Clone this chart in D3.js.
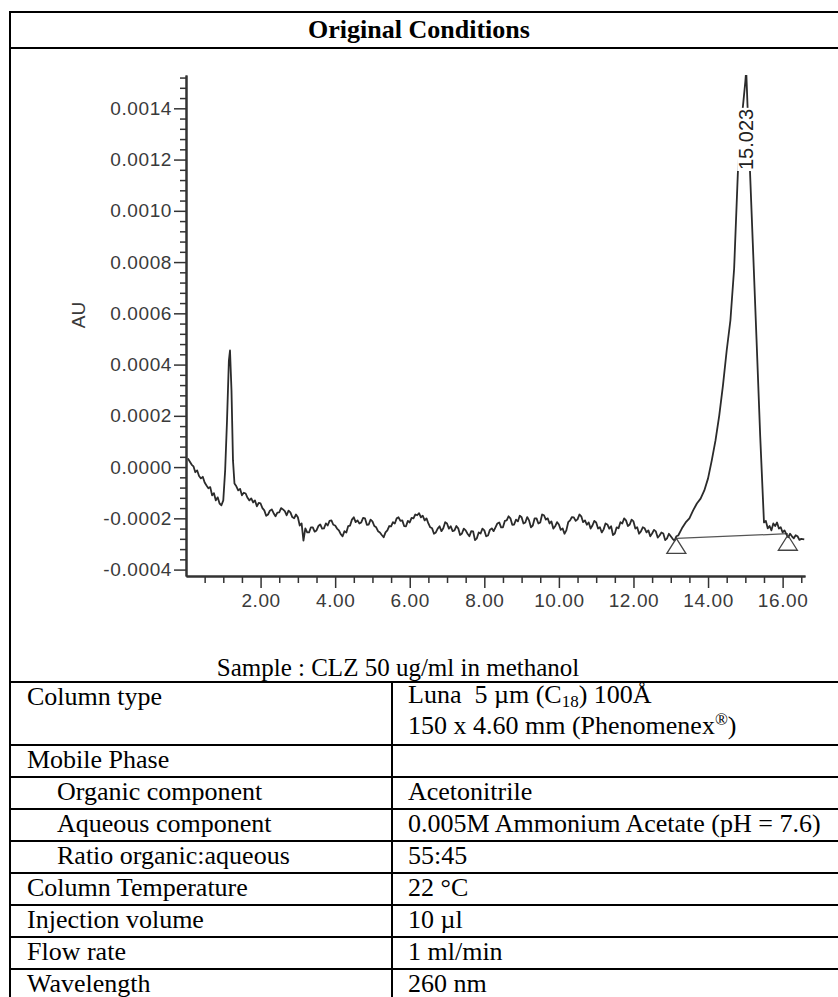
<!DOCTYPE html>
<html>
<head>
<meta charset="utf-8">
<script src="https://cdn.jsdelivr.net/npm/d3@7/dist/d3.min.js"></script>
<style>
  body { margin: 0; background: #fff; }
  text { white-space: pre; }
</style>
</head>
<body>
<svg id="main" width="838" height="997"></svg>
<script>
svg = d3.select("#main")

// chromatogram, [time (min), absorbance (AU)]
var trace = [
  [0.05, 0.34e-4], [0.10, 0.22e-4], [0.15, 0.10e-4], [0.20, 0.03e-4], [0.25, -0.20e-4],
  [0.30, -0.13e-4], [0.35, -0.35e-4], [0.40, -0.44e-4], [0.45, -0.38e-4], [0.50, -0.60e-4],
  [0.55, -0.72e-4], [0.60, -0.83e-4], [0.65, -0.78e-4], [0.70, -1.10e-4], [0.75, -1.02e-4],
  [0.80, -1.30e-4], [0.85, -1.18e-4], [0.90, -1.42e-4], [0.95, -1.49e-4], [1.00, -1.30e-4],
  [1.05, -0.13e-4], [1.10, 1.82e-4], [1.15, 4.16e-4], [1.18, 4.55e-4], [1.22, 2.99e-4],
  [1.26, 0.26e-4], [1.30, -0.64e-4], [1.35, -0.75e-4], [1.40, -0.91e-4], [1.45, -0.85e-4],
  [1.50, -1.10e-4], [1.55, -1.00e-4], [1.60, -1.03e-4], [1.65, -1.20e-4], [1.70, -1.30e-4],
  [1.75, -1.22e-4], [1.80, -1.38e-4], [1.85, -1.30e-4], [1.90, -1.53e-4], [1.95, -1.40e-4],
  [2.00, -1.42e-4], [2.05, -1.60e-4], [2.10, -1.69e-4], [2.15, -1.90e-4], [2.20, -1.85e-4],
  [2.25, -1.70e-4], [2.30, -1.65e-4], [2.35, -1.80e-4], [2.40, -1.92e-4], [2.45, -1.78e-4],
  [2.50, -1.77e-4], [2.55, -1.60e-4], [2.60, -1.65e-4], [2.65, -1.72e-4], [2.70, -1.88e-4],
  [2.75, -1.70e-4], [2.80, -1.77e-4], [2.85, -1.95e-4], [2.90, -2.00e-4], [2.95, -1.85e-4],
  [3.00, -1.96e-4], [3.05, -2.28e-4], [3.10, -2.20e-4], [3.15, -2.87e-4], [3.20, -2.39e-4],
  [3.25, -2.55e-4], [3.30, -2.55e-4], [3.35, -2.35e-4], [3.40, -2.35e-4], [3.45, -2.52e-4],
  [3.50, -2.47e-4], [3.55, -2.30e-4], [3.60, -2.24e-4], [3.65, -2.40e-4], [3.70, -2.39e-4],
  [3.75, -2.20e-4], [3.80, -2.28e-4], [3.85, -2.10e-4], [3.90, -2.08e-4], [3.95, -2.25e-4],
  [4.00, -2.28e-4], [4.05, -2.40e-4], [4.10, -2.47e-4], [4.15, -2.62e-4], [4.20, -2.70e-4],
  [4.25, -2.50e-4], [4.30, -2.55e-4], [4.35, -2.30e-4], [4.40, -2.28e-4], [4.45, -2.05e-4],
  [4.50, -1.96e-4], [4.55, -2.15e-4], [4.60, -2.08e-4], [4.65, -2.20e-4], [4.70, -2.16e-4],
  [4.75, -1.98e-4], [4.80, -2.00e-4], [4.85, -2.25e-4], [4.90, -2.24e-4], [4.95, -2.05e-4],
  [5.00, -2.12e-4], [5.05, -2.30e-4], [5.10, -2.35e-4], [5.15, -2.50e-4], [5.20, -2.55e-4],
  [5.25, -2.65e-4], [5.30, -2.74e-4], [5.35, -2.55e-4], [5.40, -2.47e-4], [5.45, -2.30e-4],
  [5.50, -2.31e-4], [5.55, -2.15e-4], [5.60, -2.20e-4], [5.65, -2.00e-4], [5.70, -1.96e-4],
  [5.75, -2.10e-4], [5.80, -2.08e-4], [5.85, -2.30e-4], [5.90, -2.31e-4], [5.95, -2.10e-4],
  [6.00, -2.16e-4], [6.05, -1.98e-4], [6.10, -2.00e-4], [6.15, -1.85e-4], [6.20, -1.88e-4],
  [6.25, -1.80e-4], [6.30, -1.96e-4], [6.35, -1.90e-4], [6.40, -2.08e-4], [6.45, -2.00e-4],
  [6.50, -2.20e-4], [6.55, -2.35e-4], [6.60, -2.39e-4], [6.65, -2.60e-4], [6.70, -2.55e-4],
  [6.75, -2.40e-4], [6.80, -2.31e-4], [6.85, -2.50e-4], [6.90, -2.39e-4], [6.95, -2.15e-4],
  [7.00, -2.20e-4], [7.05, -2.40e-4], [7.10, -2.31e-4], [7.15, -2.50e-4], [7.20, -2.47e-4],
  [7.25, -2.30e-4], [7.30, -2.39e-4], [7.35, -2.65e-4], [7.40, -2.59e-4], [7.45, -2.40e-4],
  [7.50, -2.47e-4], [7.55, -2.60e-4], [7.60, -2.70e-4], [7.65, -2.50e-4], [7.70, -2.51e-4],
  [7.75, -2.85e-4], [7.80, -2.78e-4], [7.85, -2.55e-4], [7.90, -2.59e-4], [7.95, -2.40e-4],
  [8.00, -2.47e-4], [8.05, -2.70e-4], [8.10, -2.67e-4], [8.15, -2.45e-4], [8.20, -2.39e-4],
  [8.25, -2.50e-4], [8.30, -2.35e-4], [8.35, -2.20e-4], [8.40, -2.16e-4], [8.45, -2.35e-4],
  [8.50, -2.35e-4], [8.55, -2.10e-4], [8.60, -2.08e-4], [8.65, -1.92e-4], [8.70, -2.00e-4],
  [8.75, -2.25e-4], [8.80, -2.24e-4], [8.85, -2.05e-4], [8.90, -2.12e-4], [8.95, -1.90e-4],
  [9.00, -1.96e-4], [9.05, -2.20e-4], [9.10, -2.16e-4], [9.15, -1.95e-4], [9.20, -2.08e-4],
  [9.25, -2.35e-4], [9.30, -2.28e-4], [9.35, -2.00e-4], [9.40, -2.00e-4], [9.45, -2.20e-4],
  [9.50, -2.16e-4], [9.55, -1.85e-4], [9.60, -1.88e-4], [9.65, -2.05e-4], [9.70, -2.00e-4],
  [9.75, -2.20e-4], [9.80, -2.12e-4], [9.85, -2.40e-4], [9.90, -2.31e-4], [9.95, -2.15e-4],
  [10.00, -2.24e-4], [10.05, -2.45e-4], [10.10, -2.39e-4], [10.15, -2.60e-4], [10.20, -2.47e-4],
  [10.25, -2.15e-4], [10.30, -2.08e-4], [10.35, -1.95e-4], [10.40, -1.96e-4], [10.45, -2.10e-4],
  [10.50, -2.04e-4], [10.55, -1.85e-4], [10.60, -1.92e-4], [10.65, -2.15e-4], [10.70, -2.08e-4],
  [10.75, -2.25e-4], [10.80, -2.16e-4], [10.85, -2.40e-4], [10.90, -2.28e-4], [10.95, -2.10e-4],
  [11.00, -2.16e-4], [11.05, -2.40e-4], [11.10, -2.35e-4], [11.15, -2.55e-4], [11.20, -2.43e-4],
  [11.25, -2.20e-4], [11.30, -2.24e-4], [11.35, -2.40e-4], [11.40, -2.31e-4], [11.45, -2.65e-4],
  [11.50, -2.59e-4], [11.55, -2.35e-4], [11.60, -2.39e-4], [11.65, -2.15e-4], [11.70, -2.20e-4],
  [11.75, -2.00e-4], [11.80, -2.08e-4], [11.85, -2.30e-4], [11.90, -2.24e-4], [11.95, -2.05e-4],
  [12.00, -2.12e-4], [12.05, -2.40e-4], [12.10, -2.35e-4], [12.15, -2.60e-4], [12.20, -2.51e-4],
  [12.25, -2.35e-4], [12.30, -2.39e-4], [12.35, -2.55e-4], [12.40, -2.47e-4], [12.45, -2.70e-4],
  [12.50, -2.59e-4], [12.55, -2.45e-4], [12.60, -2.51e-4], [12.65, -2.75e-4], [12.70, -2.67e-4],
  [12.75, -2.55e-4], [12.80, -2.59e-4], [12.85, -2.85e-4], [12.90, -2.78e-4], [12.95, -2.60e-4],
  [13.00, -2.70e-4], [13.05, -2.80e-4], [13.10, -2.87e-4], [13.15, -2.70e-4], [13.20, -2.67e-4],
  [13.30, -2.39e-4], [13.40, -2.16e-4], [13.50, -2.00e-4], [13.60, -1.69e-4], [13.70, -1.42e-4],
  [13.80, -1.23e-4], [13.90, -0.91e-4], [14.00, -0.44e-4], [14.10, 0.26e-4], [14.20, 1.04e-4],
  [14.30, 2.01e-4], [14.40, 3.19e-4], [14.50, 4.55e-4], [14.60, 5.73e-4], [14.70, 7.76e-4],
  [14.80, 11.50e-4], [14.90, 13.55e-4], [15.00, 15.04e-4], [15.023, 15.50e-4], [15.10, 12.48e-4],
  [15.20, 8.74e-4], [15.30, 4.99e-4], [15.40, 1.16e-4], [15.50, -2.16e-4], [15.55, -2.10e-4],
  [15.60, -2.39e-4], [15.65, -2.30e-4], [15.70, -2.47e-4], [15.75, -2.20e-4], [15.80, -2.30e-4],
  [15.85, -2.16e-4], [15.90, -2.40e-4], [15.95, -2.35e-4], [16.00, -2.55e-4], [16.05, -2.47e-4],
  [16.10, -2.62e-4], [16.15, -2.74e-4], [16.20, -2.60e-4], [16.25, -2.70e-4], [16.30, -2.78e-4],
  [16.35, -2.66e-4], [16.40, -2.70e-4], [16.45, -2.84e-4], [16.50, -2.80e-4], [16.58, -2.82e-4]
];

// integration baseline and its start / end markers
var baseline = [[13.15, -2.78e-4], [16.14, -2.60e-4]];
var peakMarks = [[13.15, -2.78e-4], [16.14, -2.66e-4]];
var peakLabel = [[15.023, "15.023"]];

var xMajor = [2, 4, 6, 8, 10, 12, 14, 16];
var yMajor = [-0.0004, -0.0002, 0.0000, 0.0002, 0.0004, 0.0006, 0.0008, 0.0010, 0.0012, 0.0014];

var title = "Original Conditions";
var sampleText = "Sample : CLZ 50 ug/ml in methanol";

var rowNames = ["Column type", "Mobile Phase", "Organic component", "Aqueous component",
  "Ratio organic:aqueous", "Column Temperature", "Injection volume", "Flow rate", "Wavelength"];
var rowIndent = [0, 0, 1, 1, 1, 0, 0, 0, 0];
var rowValues = [
  [[["Luna  5 \u00b5m (C"], ["18", "sub"], [") 100\u00c5"]],
   [["150 x 4.60 mm (Phenomenex"], ["\u00ae", "sup"], [")"]]],
  [],
  [[["Acetonitrile"]]],
  [[["0.005M Ammonium Acetate (pH = 7.6)"]]],
  [[["55:45"]]],
  [[["22 \u00b0C"]]],
  [[["10 \u00b5l"]]],
  [[["1 ml/min"]]],
  [[["260 nm"]]]
];

var serif = "'Liberation Serif', 'Times New Roman', serif";
var sans = "'Liberation Sans', Arial, sans-serif";

// ---------- chart ----------
var x = d3.scaleLinear().domain([0, 16.6]).range([186, 805]);
var y = d3.scaleLinear().domain([-0.000425, 0.00153]).range([576, 75]);

var xMinor = d3.range(0.5, 16.6, 0.5).filter(function(d) { return d % 2 != 0; });
var yMinor = d3.range(-10, 39).map(function(i) { return i * 0.00004; })
  .filter(function(d) { return Math.abs(Math.round(d / 0.0002) * 0.0002 - d) > 1e-9; });

// plain hyphen for negatives, like the instrument print-out
var fmt = d3.formatLocale({decimal: ".", thousands: ",", grouping: [3], currency: ["", ""], minus: "-"});

var chart = svg.append("g");

function styleAxis(g) {
  g.select(".domain").attr("stroke", "#333").attr("stroke-width", 2);
  g.selectAll(".tick line").attr("stroke", "#333").attr("stroke-width", 1.5);
  g.selectAll("text").attr("fill", "#3a3a3a").style("font-family", sans)
    .style("font-size", "19px").style("letter-spacing", "0.6px");
}

chart.append("g").attr("transform", "translate(186,0)")
  .call(d3.axisLeft(y).tickValues(yMinor).tickSize(6).tickSizeOuter(0).tickFormat(""))
  .call(styleAxis);
chart.append("g").attr("transform", "translate(186,0)")
  .call(d3.axisLeft(y).tickValues(yMajor).tickSize(12).tickSizeOuter(0).tickPadding(2)
    .tickFormat(fmt.format(".4f")))
  .call(styleAxis);

chart.append("g").attr("transform", "translate(0,576)")
  .call(d3.axisBottom(x).tickValues(xMinor).tickSize(7).tickSizeOuter(0).tickFormat(""))
  .call(styleAxis);
chart.append("g").attr("transform", "translate(0,576)")
  .call(d3.axisBottom(x).tickValues(xMajor).tickSize(12).tickSizeOuter(0).tickPadding(6)
    .tickFormat(fmt.format(".2f")))
  .call(styleAxis);

chart.append("text")
  .attr("transform", "translate(85,315) rotate(-90)")
  .attr("text-anchor", "middle")
  .style("font-family", sans).style("font-size", "19px").attr("fill", "#3a3a3a")
  .text("AU");

svg.append("clipPath").attr("id", "plotClip")
  .append("rect").attr("x", 186).attr("y", 75).attr("width", 619).attr("height", 501);

var line = d3.line().x(function(d) { return x(d[0]); }).y(function(d) { return y(d[1]); });

chart.append("path").datum(baseline)
  .attr("d", line).attr("fill", "none").attr("stroke", "#555").attr("stroke-width", 1.2);

chart.append("path").datum(trace)
  .attr("clip-path", "url(#plotClip)")
  .attr("d", line).attr("fill", "none").attr("stroke", "#2b2b2b")
  .attr("stroke-width", 1.8).attr("stroke-linejoin", "round");

chart.selectAll(".mark").data(peakMarks).enter().append("path")
  .attr("class", "mark")
  .attr("d", function(d) {
    var px = x(d[0]), py = y(d[1]);
    return "M" + px + " " + py + " L" + (px + 9.5) + " " + (py + 15) +
      " L" + (px - 9.5) + " " + (py + 15) + " Z";
  })
  .attr("fill", "none").attr("stroke", "#444").attr("stroke-width", 1.3);

var lab = chart.selectAll(".plabel").data(peakLabel).enter().append("g")
  .attr("class", "plabel")
  .attr("transform", function(d) { return "translate(" + (x(d[0]) + 7) + ",170) rotate(-90)"; });
lab.append("text")
  .style("font-family", sans).style("font-size", "20px").attr("fill", "#222")
  .text(function(d) { return d[1]; });
lab.each(function() {
  var g = d3.select(this), bb = g.select("text").node().getBBox();
  g.insert("rect", "text").attr("x", bb.x - 1).attr("y", bb.y + 2)
    .attr("width", bb.width + 2).attr("height", bb.height - 3).attr("fill", "#fff");
});

// ---------- table ----------
var tbl = svg.append("g");
var left = 10, divider = 392, right = 838;
var rowTops = [682, 745, 777, 809, 841, 873, 905, 937, 969];

function hline(yy, x0) {
  tbl.append("line").attr("x1", x0).attr("x2", right).attr("y1", yy).attr("y2", yy)
    .attr("stroke", "#000").attr("stroke-width", 2);
}
hline(12, left - 1);
hline(48, left);
rowTops.forEach(function(t) { hline(t, left); });
tbl.append("line").attr("x1", left).attr("x2", left).attr("y1", 11).attr("y2", 997)
  .attr("stroke", "#000").attr("stroke-width", 2);
tbl.append("line").attr("x1", divider).attr("x2", divider).attr("y1", 682).attr("y2", 997)
  .attr("stroke", "#000").attr("stroke-width", 2);

tbl.append("text").attr("x", 419).attr("y", 38).attr("text-anchor", "middle")
  .style("font-family", serif).style("font-size", "26px").style("font-weight", "bold")
  .text(title);

tbl.append("text").attr("x", 398).attr("y", 676).attr("text-anchor", "middle")
  .style("font-family", serif).style("font-size", "25px")
  .text(sampleText);

rowNames.forEach(function(name, i) {
  tbl.append("text").attr("x", 27 + rowIndent[i] * 30).attr("y", rowTops[i] + 23)
    .style("font-family", serif).style("font-size", "26px").text(name);
  var vals = rowValues[i];
  vals.forEach(function(segs, k) {
    var base = vals.length > 1 ? rowTops[i] + 21 + k * 31 : rowTops[i] + 23;
    var t = tbl.append("text").attr("x", 408).attr("y", base)
      .style("font-family", serif).style("font-size", "26px");
    var shift = 0;
    segs.forEach(function(s) {
      var ts = t.append("tspan").text(s[0]);
      var want = s[1] == "sub" ? 4 : s[1] == "sup" ? -9 : 0;
      if (want != shift) { ts.attr("dy", want - shift); shift = want; }
      if (s[1]) ts.style("font-size", "17px");
    });
  });
});
</script>
</body>
</html>
